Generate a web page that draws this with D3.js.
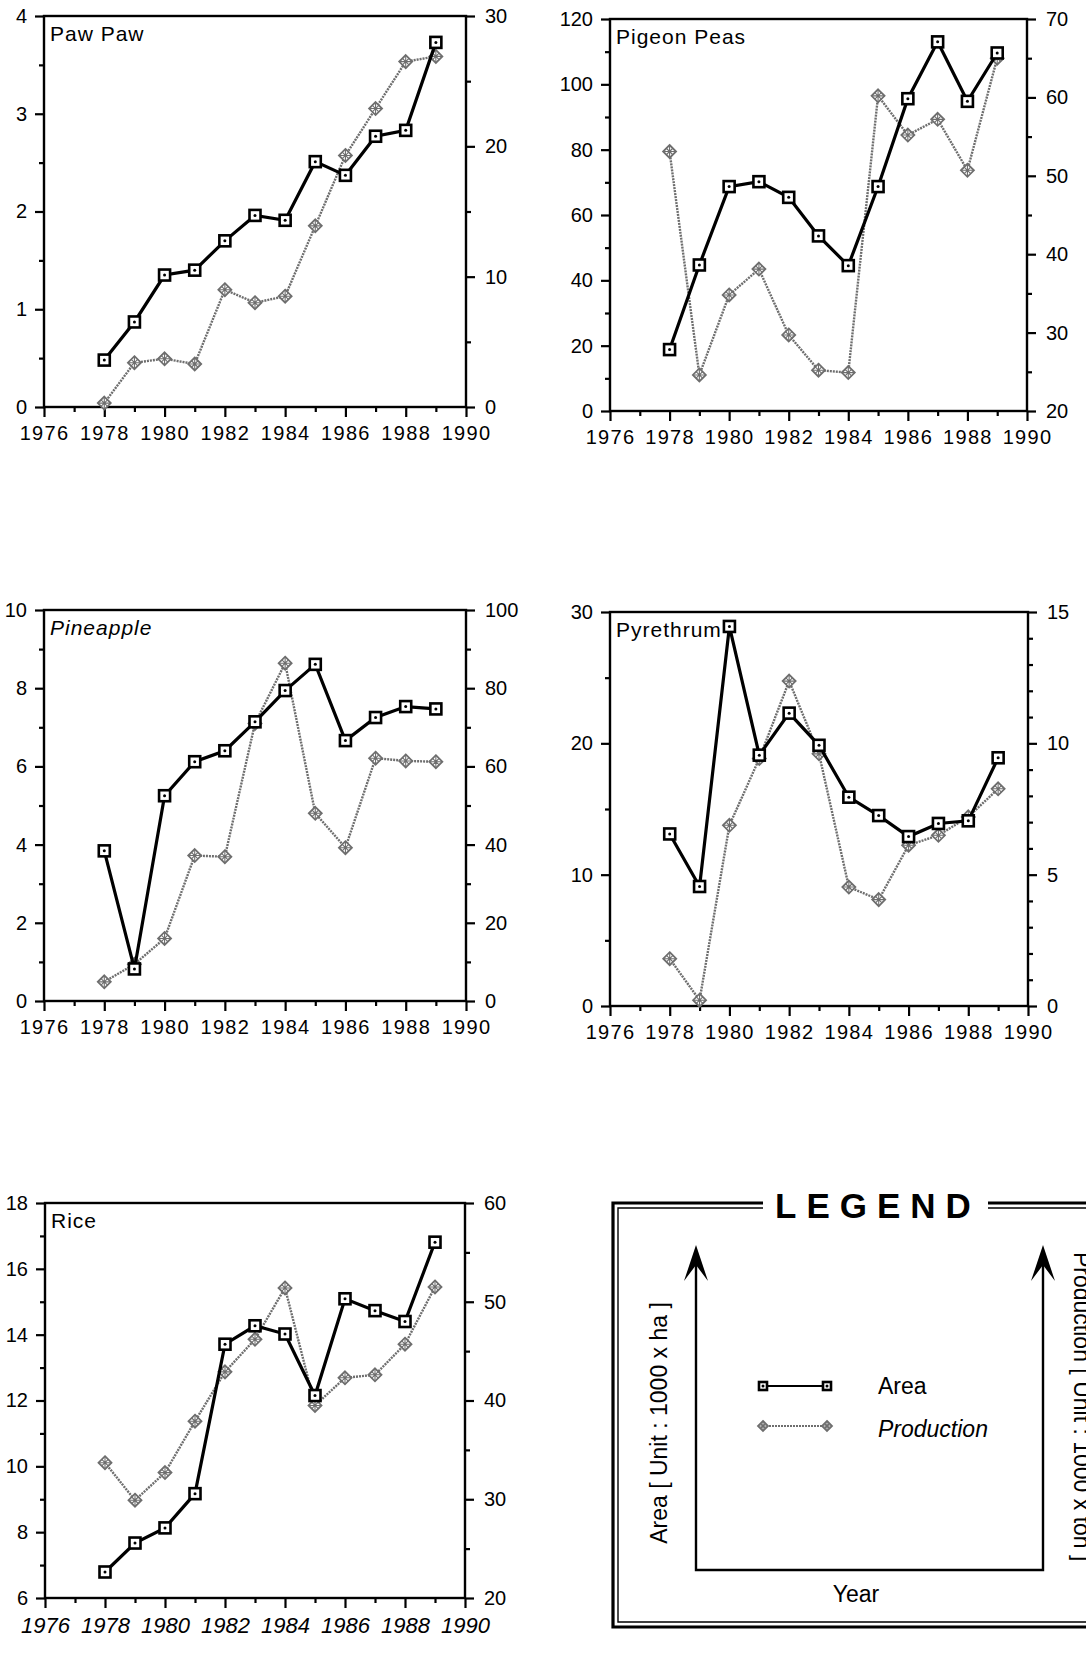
<!DOCTYPE html>
<html>
<head>
<meta charset="utf-8">
<script src="https://cdn.jsdelivr.net/npm/d3@7"></script>
<style>
  body { margin: 0; background: #fff; }
  svg { display: block; font-family: "Liberation Sans", Arial, Helvetica, sans-serif; }
</style>
</head>
<body>
<div id="chart"></div>
<script>
// ---- data ----
const years = [1978, 1979, 1980, 1981, 1982, 1983, 1984, 1985, 1986, 1987, 1988, 1989];
const crops = ["Paw Paw", "Pigeon Peas", "Pineapple", "Pyrethrum", "Rice"];

const pawPawArea = [0.48, 0.87, 1.35, 1.40, 1.70, 1.96, 1.91, 2.51, 2.37, 2.77, 2.83, 3.73];
const pawPawProd = [0.3, 3.4, 3.7, 3.3, 9.0, 8.0, 8.5, 13.9, 19.3, 22.9, 26.5, 26.9];

const pigeonPeasArea = [18.8, 44.7, 68.7, 70.2, 65.4, 53.6, 44.5, 68.7, 95.6, 113, 94.8, 109.6];
const pigeonPeasProd = [53.1, 24.6, 34.8, 38.1, 29.7, 25.2, 24.9, 60.2, 55.2, 57.2, 50.7, 65.0];

const pineappleArea = [3.84, 0.82, 5.25, 6.12, 6.40, 7.14, 7.94, 8.61, 6.66, 7.25, 7.53, 7.47];
const pineappleProd = [4.9, 9.4, 16.0, 37.2, 36.9, 71.0, 86.4, 48.0, 39.2, 62.1, 61.4, 61.2];

const pyrethrumArea = [13.1, 9.1, 28.9, 19.1, 22.3, 19.85, 15.9, 14.5, 12.9, 13.9, 14.1, 18.9];
const pyrethrumProd = [1.8, 0.22, 6.88, 9.42, 12.37, 9.6, 4.53, 4.05, 6.12, 6.5, 7.2, 8.27];

const riceArea = [6.79, 7.67, 8.13, 9.17, 13.71, 14.27, 14.02, 12.15, 15.09, 14.73, 14.40, 16.81];
const riceProd = [33.7, 29.9, 32.7, 37.9, 42.9, 46.2, 51.4, 39.5, 42.3, 42.6, 45.7, 51.5];

const areaSeries = [pawPawArea, pigeonPeasArea, pineappleArea, pyrethrumArea, riceArea];
const prodSeries = [pawPawProd, pigeonPeasProd, pineappleProd, pyrethrumProd, riceProd];

// axis ranges and tick steps [major, minor]
const areaDomains = [[0, 4], [0, 120], [0, 10], [0, 30], [6, 18]];
const prodDomains = [[0, 30], [20, 70], [0, 100], [0, 15], [20, 60]];
const areaSteps = [[1, 0.5], [20, 10], [2, 1], [10, 5], [2, 1]];
const prodSteps = [[10, 5], [10, 5], [20, 10], [5, 1], [10, 5]];

const yearMajor = [1976, 1978, 1980, 1982, 1984, 1986, 1988, 1990];
const yearMinor = [1977, 1979, 1981, 1983, 1985, 1987, 1989];

// ---- layout ----
const layout = [
  [44, 16, 422, 391],
  [610, 19, 417, 392],
  [44, 610, 422, 391],
  [610, 612, 418, 394],
  [45, 1203, 420, 395]
];

const svg = d3.select("#chart")
  .append("svg")
  .attr("width", 1086)
  .attr("height", 1657);

const GREY = "#6e6e6e";

function ticksFrom(domain, step) {
  const n = Math.round((domain[1] - domain[0]) / step);
  return d3.range(n + 1).map(k => +(domain[0] + k * step).toFixed(4));
}

function squareMarker(sel, size) {
  sel.append("rect")
    .attr("x", -size / 2).attr("y", -size / 2)
    .attr("width", size).attr("height", size)
    .attr("fill", "#fff").attr("stroke", "#000").attr("stroke-width", 2.6);
  sel.append("circle").attr("r", 1.5).attr("fill", "#000");
}

function diamondMarker(sel, r) {
  sel.append("path")
    .attr("d", `M0,${-r}L${r},0L0,${r}L${-r},0Z`)
    .attr("fill", "#fff").attr("stroke", GREY).attr("stroke-width", 1.8);
  sel.append("path")
    .attr("d", `M${-r / 2},${-r / 2}L${r / 2},${r / 2}M${r / 2},${-r / 2}L${-r / 2},${r / 2}M0,${-r}L0,${r}M${-r},0L${r},0`)
    .attr("stroke", GREY).attr("stroke-width", 1.1);
}

function styleAxis(ax) {
  ax.select(".domain").remove();
  ax.selectAll("line").attr("stroke", "#000").attr("stroke-width", 2.2);
  ax.selectAll("text").attr("fill", "#000").style("font-size", "20px");
}

function drawPanel(i) {
  const [px, py, w, h] = layout[i];
  const g = svg.append("g").attr("transform", `translate(${px},${py})`);

  const x = d3.scaleLinear().domain([1976, 1990]).range([0, w]);
  const yA = d3.scaleLinear().domain(areaDomains[i]).range([h, 0]);
  const yP = d3.scaleLinear().domain(prodDomains[i]).range([h, 0]);

  const aMajor = ticksFrom(areaDomains[i], areaSteps[i][0]);
  const aMinor = ticksFrom(areaDomains[i], areaSteps[i][1]).filter(v => !aMajor.includes(v));
  const pMajor = ticksFrom(prodDomains[i], prodSteps[i][0]);
  const pMinor = ticksFrom(prodDomains[i], prodSteps[i][1]).filter(v => !pMajor.includes(v));

  // left axis
  g.append("g").call(d3.axisLeft(yA).tickValues(aMajor).tickSize(9).tickPadding(8).tickFormat(d3.format("d"))).call(styleAxis);
  g.append("g").call(d3.axisLeft(yA).tickValues(aMinor).tickSize(5).tickFormat("")).call(styleAxis);

  // right axis
  g.append("g").attr("transform", `translate(${w},0)`)
    .call(d3.axisRight(yP).tickValues(pMajor).tickSize(9).tickPadding(10).tickFormat(d3.format("d"))).call(styleAxis);
  g.append("g").attr("transform", `translate(${w},0)`)
    .call(d3.axisRight(yP).tickValues(pMinor).tickSize(5).tickFormat("")).call(styleAxis);

  // bottom axis
  const bx = g.append("g").attr("transform", `translate(0,${h})`)
    .call(d3.axisBottom(x).tickValues(yearMajor).tickSize(10).tickPadding(9).tickFormat(d3.format("d")))
    .call(styleAxis);
  bx.selectAll("text").style("letter-spacing", i === 4 ? "0px" : "1.3px");
  if (i === 4) bx.selectAll("text").style("font-style", "italic").style("font-size", "22px");
  g.append("g").attr("transform", `translate(0,${h})`)
    .call(d3.axisBottom(x).tickValues(yearMinor).tickSize(5).tickFormat(""))
    .call(styleAxis);

  // frame
  g.append("rect")
    .attr("width", w).attr("height", h)
    .attr("fill", "none").attr("stroke", "#000").attr("stroke-width", 2.4);

  // title
  g.append("text")
    .attr("x", 6).attr("y", 25)
    .style("font-size", "21px")
    .style("letter-spacing", "1px")
    .style("font-style", i === 2 ? "italic" : "normal")
    .text(crops[i]);

  const areaPts = years.map((yr, k) => [yr, areaSeries[i][k]]);
  const prodPts = years.map((yr, k) => [yr, prodSeries[i][k]]);

  // production (grey dotted line, diamonds)
  g.append("path")
    .datum(prodPts)
    .attr("fill", "none")
    .attr("stroke", GREY)
    .attr("stroke-width", 2.4)
    .attr("stroke-dasharray", "2,1")
    .attr("d", d3.line().x(d => x(d[0])).y(d => yP(d[1])));

  g.selectAll(".prod")
    .data(prodPts)
    .enter().append("g")
    .attr("transform", d => `translate(${x(d[0])},${yP(d[1])})`)
    .each(function () { diamondMarker(d3.select(this), 6.5); });

  // area (black solid line, squares)
  g.append("path")
    .datum(areaPts)
    .attr("fill", "none")
    .attr("stroke", "#000")
    .attr("stroke-width", 3.2)
    .attr("d", d3.line().x(d => x(d[0])).y(d => yA(d[1])));

  g.selectAll(".area")
    .data(areaPts)
    .enter().append("g")
    .attr("transform", d => `translate(${x(d[0])},${yA(d[1])})`)
    .each(function () { squareMarker(d3.select(this), 11); });
}

crops.forEach((c, i) => drawPanel(i));

// ---- legend box ----
const lg = svg.append("g");

// double frame (outer heavy, inner thin), broken at the title
lg.append("path")
  .attr("d", "M763,1203 L613,1203 L613,1627 L1092,1627 M988,1203 L1092,1203")
  .attr("fill", "none").attr("stroke", "#000").attr("stroke-width", 3.2);
lg.append("path")
  .attr("d", "M763,1208 L618,1208 L618,1622 L1092,1622 M988,1208 L1092,1208")
  .attr("fill", "none").attr("stroke", "#000").attr("stroke-width", 1.4);

lg.append("text")
  .attr("x", 775).attr("y", 1218)
  .style("font-size", "35px").style("font-weight", "bold")
  .style("letter-spacing", "10px")
  .text("LEGEND");

// schematic axes with arrows
lg.append("path")
  .attr("d", "M696,1262 L696,1570 L1043,1570 L1043,1262")
  .attr("fill", "none").attr("stroke", "#000").attr("stroke-width", 2.4);
[696, 1043].forEach(ax => {
  lg.append("path")
    .attr("d", `M${ax},1245 L${ax + 12},1281 L${ax},1265 L${ax - 12},1281 Z`)
    .attr("fill", "#000");
});

lg.append("text")
  .attr("transform", "translate(667,1423) rotate(-90)")
  .attr("text-anchor", "middle")
  .style("font-size", "23px")
  .text("Area  [ Unit : 1000 x ha ]");

lg.append("text")
  .attr("transform", "translate(1074,1252) rotate(90)")
  .style("font-size", "23px")
  .text("Production  [ Unit : 1000 x ton ]");

lg.append("text")
  .attr("x", 856).attr("y", 1602)
  .attr("text-anchor", "middle")
  .style("font-size", "23px")
  .text("Year");

// samples
lg.append("line").attr("x1", 763).attr("x2", 827).attr("y1", 1386).attr("y2", 1386)
  .attr("stroke", "#000").attr("stroke-width", 2.2);
[763, 827].forEach(sx => squareMarker(lg.append("g").attr("transform", `translate(${sx},1386)`), 8));
lg.append("line").attr("x1", 763).attr("x2", 827).attr("y1", 1426).attr("y2", 1426)
  .attr("stroke", GREY).attr("stroke-width", 2.2).attr("stroke-dasharray", "2,1");
[763, 827].forEach(sx => diamondMarker(lg.append("g").attr("transform", `translate(${sx},1426)`), 5));

lg.append("text").attr("x", 878).attr("y", 1394)
  .style("font-size", "23px").text("Area");
lg.append("text").attr("x", 878).attr("y", 1437)
  .style("font-size", "23px").style("font-style", "italic").text("Production");
</script>
</body>
</html>
